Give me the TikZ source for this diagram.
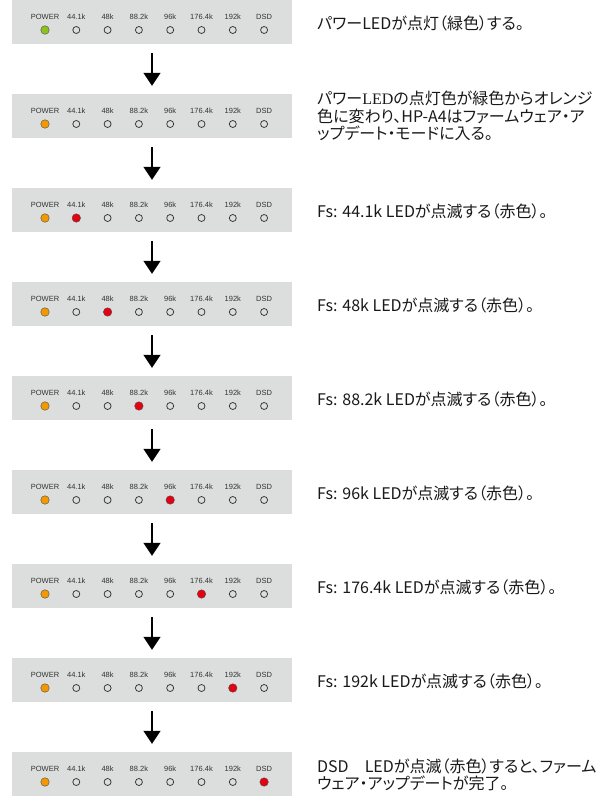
\documentclass[tikz,border=0pt]{standalone}
\usepackage{fontspec}
\setmainfont{Liberation Sans}
\newfontfamily\jpfont[RawFeature=+palt]{Noto Sans CJK JP}
\newfontfamily\serifled{Liberation Serif}
\usetikzlibrary{arrows.meta}
\definecolor{panelgray}{HTML}{DCDDDD}
\definecolor{ledgreencol}{HTML}{8CC21F}
\definecolor{ledorangecol}{HTML}{F39800}
\definecolor{ledredcol}{HTML}{E60012}
\definecolor{inkcol}{HTML}{333333}
\tikzset{
  panel/.style={rectangle, fill=panelgray, draw=none, minimum width=280, minimum height=44, inner sep=0},
  ledlabel/.style={font=\fontsize{7.5}{8}\selectfont, text=inkcol, inner sep=0},
  ledon/.style={circle, inner sep=0, minimum size=8.5, draw=black!70, line width=0.4},
  ledoff/.style={circle, inner sep=0, minimum size=7, draw=inkcol, line width=0.75},
  ledgreen/.style={ledon, fill=ledgreencol},
  ledorange/.style={ledon, fill=ledorangecol},
  ledred/.style={ledon, fill=ledredcol},
  desc/.style={anchor=west, align=left, inner sep=0, text=black!90, font=\jpfont\fontsize{16}{17.5}\selectfont},
  flowarrow/.style={line width=1.6, -{Triangle[width=17,length=13]}, shorten <=9, shorten >=8}
}
\begin{document}
\begin{tikzpicture}[x=1pt,y=-1pt]
\useasboundingbox (0,0) rectangle (614,796);
\foreach \k in {1,...,9}{
  \pgfmathsetmacro\top{94*(\k-1)}
  \pgfmathtruncatemacro\act{\k-2}
  \node[panel] (p\k) at (152,\top+22) {};
  \foreach \i/\lab in {0/POWER,1/44.1k,2/48k,3/88.2k,4/96k,5/176.4k,6/192k,7/DSD}{
    \node[ledlabel] (l\k-\i) at (45+31.3*\i,\top+16.5) {\lab};
    \ifnum\i=0
      \ifnum\k=1 \def\st{ledgreen}\else\def\st{ledorange}\fi
    \else
      \ifnum\i=\act \def\st{ledred}\else\def\st{ledoff}\fi
    \fi
    \node[\st] (d\k-\i) at (45+31.3*\i,\top+30) {};
  }
}
\foreach \k [evaluate=\k as \n using int(\k+1)] in {1,...,8}{
  \draw[flowarrow] (p\k.south) -- (p\n.north);
}
\node[desc] (t1) at (317,23) {パワーLEDが点灯（緑色）する。};
\node[desc] (t2) at (317,116) {パワー{\serifled LED}の点灯色が緑色からオレンジ\\色に変わり、HP-A4はファームウェア・ア\\ップデート・モードに入る。};
\node[desc] (t3) at (317,211) {Fs: 44.1k LEDが点滅する（赤色）。};
\node[desc] (t4) at (317,305) {Fs: 48k LEDが点滅する（赤色）。};
\node[desc] (t5) at (317,399) {Fs: 88.2k LEDが点滅する（赤色）。};
\node[desc] (t6) at (317,493) {Fs: 96k LEDが点滅する（赤色）。};
\node[desc] (t7) at (317,587) {Fs: 176.4k LEDが点滅する（赤色）。};
\node[desc] (t8) at (317,681) {Fs: 192k LEDが点滅する（赤色）。};
\node[desc] (t9) at (317,775) {DSD　LEDが点滅（赤色）すると、ファーム\\ウェア・アップデートが完了。};
\end{tikzpicture}
\end{document}
